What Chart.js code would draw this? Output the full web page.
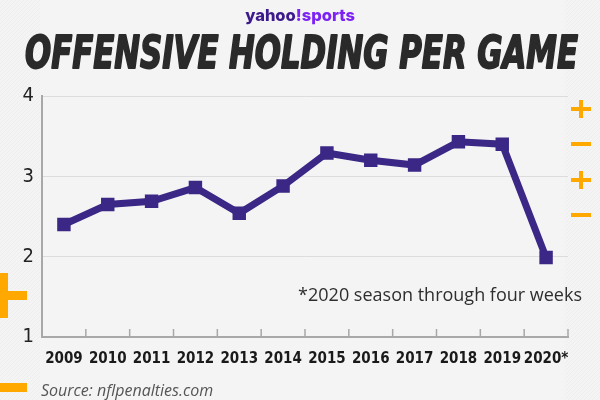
<!DOCTYPE html>
<html>
<head>
<meta charset="utf-8">
<script src="https://cdn.jsdelivr.net/npm/chart.js@4/dist/chart.umd.min.js"></script>
<style>
  html, body { margin: 0; padding: 0; background: #f4f4f4; }
  #wrap { width: 600px; height: 400px; position: relative; }
</style>
</head>
<body>
<div id="wrap"><canvas id="holdingChart" width="600" height="400"></canvas></div>
<script>
const seasons = ["2009", "2010", "2011", "2012", "2013", "2014", "2015", "2016", "2017", "2018", "2019", "2020*"];
const holdingsPerGame = [2.40, 2.65, 2.69, 2.86, 2.54, 2.88, 3.29, 3.20, 3.14, 3.43, 3.40, 1.99];
const yTicks = [1, 2, 3, 4];

const PURPLE = "#3b2785";
const ORANGE = "#ffa800";

// background, stripes, title, logo, notes and orange marks
const decorPlugin = {
  id: "decor",
  beforeDraw(chart) {
    const ctx = chart.ctx;
    ctx.save();
    ctx.fillStyle = "#f4f4f4";
    ctx.fillRect(0, 0, chart.width, chart.height);

    // faint diagonal stripes at the edges
    ctx.beginPath();
    ctx.rect(0, 0, 40, 400);
    ctx.rect(565, 0, 35, 400);
    ctx.clip();
    ctx.strokeStyle = "rgba(0,0,0,0.025)";
    ctx.lineWidth = 1;
    for (let i = -400; i < 1000; i += 4) {
      ctx.beginPath();
      ctx.moveTo(i, 400);
      ctx.lineTo(i + 400, 0);
      ctx.stroke();
    }
    ctx.restore();
  },
  afterDraw(chart) {
    const ctx = chart.ctx;
    const x = chart.scales.x;
    const area = chart.chartArea;
    ctx.save();

    // small tick marks between seasons, pointing up from the axis
    ctx.strokeStyle = "#a8a8a8";
    ctx.lineWidth = 1.5;
    for (let i = 1; i <= seasons.length; i++) {
      const px = i < seasons.length
        ? (x.getPixelForValue(i - 1) + x.getPixelForValue(i)) / 2
        : area.right;
      ctx.beginPath();
      ctx.moveTo(px, area.bottom);
      ctx.lineTo(px, area.bottom - 8);
      ctx.stroke();
    }

    // logo
    ctx.textBaseline = "alphabetic";
    ctx.font = '800 16.5px Inter, "DejaVu Sans", sans-serif';
    const w1 = ctx.measureText("yahoo").width;
    const w2 = ctx.measureText("!sports").width;
    let lx = 300 - (w1 + w2) / 2;
    ctx.fillStyle = "#3d1a8c";
    ctx.fillText("yahoo", lx, 21);
    ctx.fillStyle = "#7d22f5";
    ctx.fillText("!sports", lx + w1, 21);

    // title
    const title = "OFFENSIVE HOLDING PER GAME";
    ctx.font = 'italic bold 44px "Liberation Sans Narrow", "DejaVu Sans Condensed", sans-serif';
    const tw = ctx.measureText(title).width;
    ctx.save();
    ctx.translate(25, 68);
    ctx.scale(553 / tw, 1);
    ctx.fillStyle = "#2a2a2a";
    ctx.strokeStyle = "#2a2a2a";
    ctx.lineWidth = 1.8;
    ctx.lineJoin = "round";
    ctx.fillText(title, 0, 0);
    ctx.strokeText(title, 0, 0);
    ctx.restore();

    // footnote and source
    ctx.fillStyle = "#2e2e2e";
    ctx.textAlign = "right";
    ctx.font = '18px "Open Sans", "Noto Sans", sans-serif';
    ctx.fillText("*2020 season through four weeks", 582, 301);
    ctx.textAlign = "left";
    ctx.fillStyle = "#555";
    ctx.font = 'italic 16px "Open Sans", "Noto Sans", sans-serif';
    ctx.fillText("Source: nflpenalties.com", 41, 396);

    // orange marks
    ctx.fillStyle = ORANGE;
    ctx.fillRect(0, 273, 8, 45);
    ctx.fillRect(0, 291, 27, 9);
    ctx.fillRect(0, 383, 27, 9);
    const plus = (cx, cy) => {
      ctx.fillRect(cx - 10, cy - 2, 20, 4);
      ctx.fillRect(cx - 2, cy - 9, 4, 18);
    };
    const minus = (cx, cy) => ctx.fillRect(cx - 10, cy - 2, 20, 4);
    plus(581, 109);
    minus(581, 144);
    plus(581, 180);
    minus(581, 215);

    ctx.restore();
  }
};

new Chart(document.getElementById("holdingChart"), {
  type: "line",
  data: {
    labels: seasons,
    datasets: [{
      label: "Offensive holding per game",
      data: holdingsPerGame,
      borderColor: PURPLE,
      backgroundColor: PURPLE,
      borderWidth: 7,
      tension: 0,
      pointStyle: "rect",
      pointRadius: 9.5,
      pointBorderWidth: 0,
      pointBackgroundColor: PURPLE
    }]
  },
  options: {
    responsive: false,
    animation: false,
    devicePixelRatio: 1,
    layout: { padding: { left: 0, right: 32, top: 96, bottom: 13 } },
    plugins: {
      legend: { display: false },
      tooltip: { enabled: false }
    },
    scales: {
      x: {
        offset: true,
        grid: { display: false, drawTicks: false },
        border: { color: "#a8a8a8", width: 2 },
        ticks: {
          color: "#1a1a1a",
          padding: 13,
          maxRotation: 0,
          autoSkip: false,
          font: { family: '"DejaVu Sans Condensed", "Liberation Sans Narrow", sans-serif', size: 15, weight: "bold" }
        },
        afterFit(scale) { scale.height = 50; }
      },
      y: {
        min: 1,
        max: 4,
        afterBuildTicks(scale) { scale.ticks = yTicks.map(v => ({ value: v })); },
        grid: { color: "#dcdcdc", lineWidth: 1, drawTicks: false },
        border: { color: "#a8a8a8", width: 2 },
        ticks: {
          color: "#222",
          padding: 8,
          font: { family: '"DejaVu Sans Condensed", "Liberation Sans Narrow", sans-serif', size: 20 }
        },
        afterFit(scale) { scale.width = 42; }
      }
    }
  },
  plugins: [decorPlugin]
});
</script>
</body>
</html>
